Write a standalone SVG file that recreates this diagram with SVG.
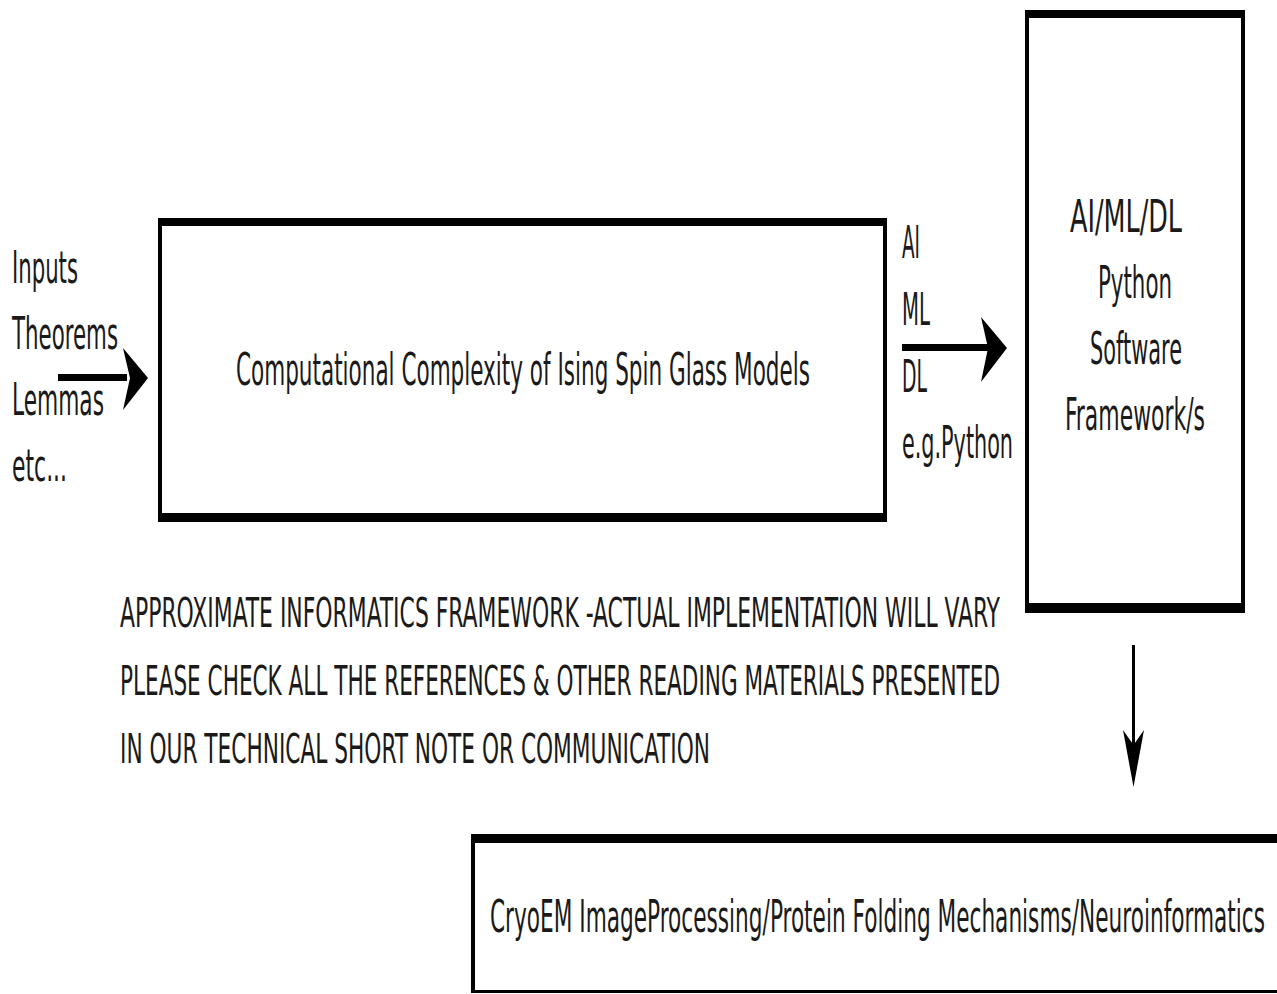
<svg xmlns="http://www.w3.org/2000/svg" width="1277" height="994" viewBox="0 0 1277 994">
<style>
.t{font-family:"DejaVu Sans Condensed","DejaVu Sans",sans-serif;font-stretch:condensed;fill:#1a1a1a;font-size:44px}
.n{font-size:41px}
.e{fill:#000}
.bg{fill:#fff}
</style>
<rect class="bg" x="0" y="0" width="1277" height="994"/>
<g id="inputs">
<text class="t" x="12" y="283" textLength="66" lengthAdjust="spacingAndGlyphs">Inputs</text>
<text class="t" x="12" y="349" textLength="106" lengthAdjust="spacingAndGlyphs">Theorems</text>
<text class="t" x="12" y="415" textLength="92" lengthAdjust="spacingAndGlyphs">Lemmas</text>
<text class="t" x="12" y="481" textLength="55" lengthAdjust="spacingAndGlyphs">etc...</text>
</g>
<g id="complexity">
<rect class="e" x="158" y="218" width="729" height="8"/>
<rect class="e" x="158" y="513" width="729" height="9"/>
<rect class="e" x="158" y="218" width="4" height="304"/>
<rect class="e" x="883" y="218" width="4" height="304"/>
<text class="t" x="236" y="385" textLength="574" lengthAdjust="spacingAndGlyphs">Computational Complexity of Ising Spin Glass Models</text>
</g>
<g id="ai-label">
<text class="t" x="902" y="258" textLength="18" lengthAdjust="spacingAndGlyphs">AI</text>
<text class="t" x="902" y="325" textLength="28" lengthAdjust="spacingAndGlyphs">ML</text>
<text class="t" x="902" y="392" textLength="25" lengthAdjust="spacingAndGlyphs">DL</text>
<text class="t" x="902" y="458" textLength="111" lengthAdjust="spacingAndGlyphs">e.g.Python</text>
</g>
<g id="framework">
<rect class="e" x="1025" y="10" width="220" height="8"/>
<rect class="e" x="1025" y="603" width="220" height="10"/>
<rect class="e" x="1025" y="10" width="4" height="603"/>
<rect class="e" x="1241" y="10" width="4" height="603"/>
<text class="t" x="1070" y="232" textLength="112" lengthAdjust="spacingAndGlyphs">AI/ML/DL</text>
<text class="t" x="1098" y="298" textLength="74" lengthAdjust="spacingAndGlyphs">Python</text>
<text class="t" x="1090" y="364" textLength="92" lengthAdjust="spacingAndGlyphs">Software</text>
<text class="t" x="1065" y="430" textLength="140" lengthAdjust="spacingAndGlyphs">Framework/s</text>
</g>
<g id="notice">
<text class="t n" x="120" y="627" textLength="880" lengthAdjust="spacingAndGlyphs">APPROXIMATE INFORMATICS FRAMEWORK -ACTUAL IMPLEMENTATION WILL VARY</text>
<text class="t n" x="120" y="695" textLength="880" lengthAdjust="spacingAndGlyphs">PLEASE CHECK ALL THE REFERENCES &amp; OTHER READING MATERIALS PRESENTED</text>
<text class="t n" x="120" y="763" textLength="590" lengthAdjust="spacingAndGlyphs">IN OUR TECHNICAL SHORT NOTE OR COMMUNICATION</text>
</g>
<g id="applications">
<rect class="e" x="471" y="834" width="806" height="9"/>
<rect class="e" x="471" y="990" width="806" height="3"/>
<rect class="e" x="471" y="834" width="4" height="159"/>
<text class="t" x="490" y="932" textLength="775" lengthAdjust="spacingAndGlyphs">CryoEM ImageProcessing/Protein Folding Mechanisms/Neuroinformatics</text>
</g>
<g id="connectors">
<rect class="e" x="58" y="374" width="69" height="7"/>
<polygon class="e" points="148,378 123,348 130,378 123,410"/>
<rect class="e" x="902" y="344" width="86" height="7"/>
<polygon class="e" points="1007,348 981,317 988,348 981,382"/>
<rect class="e" x="1132" y="645" width="3" height="100"/>
<polygon class="e" points="1133.5,787 1123,730 1133.5,745 1144,730"/>
</g>
</svg>
